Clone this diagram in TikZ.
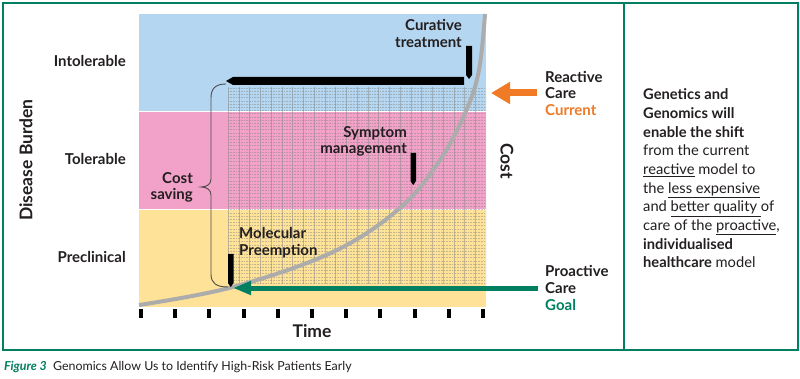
\documentclass[tikz,border=0pt]{standalone}
\usepackage{fontspec}
\setmainfont{Lato}
\usetikzlibrary{arrows.meta}
\definecolor{bandblue}{RGB}{180,214,240}
\definecolor{bandpink}{RGB}{242,162,200}
\definecolor{bandyellow}{RGB}{253,226,152}
\definecolor{framegreen}{RGB}{0,128,96}
\definecolor{arroworange}{RGB}{240,122,38}
\definecolor{darktext}{RGB}{35,31,32}
\definecolor{curvegray}{RGB}{172,172,172}
\tikzset{
  lbl/.style={inner sep=0pt, text=darktext, font=\fontsize{15}{16.5}\selectfont\bfseries},
  axislbl/.style={inner sep=0pt, text=darktext, font=\fontsize{17.5}{20}\selectfont\bfseries},
  framebox/.style={draw=framegreen, line width=2pt},
  gridv/.style={draw=gray, line width=0.5pt, opacity=0.45},
  gridh/.style={draw=gray, line width=0.5pt, dash pattern=on 0.6pt off 1pt, opacity=0.45},
  costcurve/.style={draw=curvegray, line width=4pt},
  barshape/.style={fill=black},
  brace/.style={draw=darktext!80, line width=0.9pt},
  goalarrow/.style={draw=framegreen, line width=5pt, -{Triangle[length=18pt,width=13pt]}},
  curarrow/.style={draw=arroworange, line width=7pt, -{Triangle[length=19pt,width=21pt]}},
  tick/.style={fill=black}
}
\begin{document}
\begin{tikzpicture}[x=1pt,y=-1pt]
\useasboundingbox (0,0) rectangle (800,379);
\fill[white] (0,0) rectangle (800,379);
% bands
\fill[bandblue] (139,14) rectangle (486,111);
\fill[bandpink] (139,112) rectangle (486,209);
\fill[bandyellow] (139,210) rectangle (486,307);
% grid
\begin{scope}
\clip (228,87) rectangle (486,284);
\foreach \x in {228,238.75,...,490} \draw[gridv] (\x,87) -- (\x,284);
\foreach \y in {88,91.2,...,286} \draw[gridh] (228,\y) -- (486,\y);
\end{scope}
% ticks
\foreach \i in {0,...,10} \fill[tick] ({141+34.2*\i-2},309) rectangle ++(4,9);
% cost curve
\draw[costcurve] plot[smooth, tension=0.6] coordinates {(139,305) (233,287) (333,252) (400,208) (440,160) (466,111) (479,70) (485,14)};
% reactive bar
\fill[barshape] (226,81) -- (233,77) -- (464,77) -- (464,85) -- (233,85) -- cycle;
% treatment bars
\fill[barshape] (466,46) -- (472,46) -- (472,75) -- (469,79) -- (466,75) -- cycle;
\fill[barshape] (410.5,153) -- (416,153) -- (416,181) -- (413.25,185) -- (410.5,181) -- cycle;
\fill[barshape] (228,254) -- (233.5,254) -- (233.5,283) -- (230.75,287) -- (228,283) -- cycle;
% brace
\draw[brace] (226,84) .. controls (215,84) and (211,89) .. (211,98) -- (211,179) .. controls (211,184) and (207,187) .. (201,187) .. controls (207,187) and (211,190) .. (211,195) -- (211,274) .. controls (211,283) and (216,287) .. (228,287);
% arrows
\coordinate (curtail) at (537,93);
\coordinate (curtip) at (491,93);
\draw[curarrow] (curtail) -- (curtip);
\coordinate (goaltail) at (538,288);
\coordinate (goaltip) at (233,288);
\draw[goalarrow] (goaltail) -- (goaltip);
% axis labels
\node[lbl, anchor=mid east] (intol) at (126,64) {Intolerable};
\node[lbl, anchor=mid east] (tol) at (126,162) {Tolerable};
\node[lbl, anchor=mid east] (precl) at (126,260) {Preclinical};
\node[axislbl, rotate=90] (burden) at (26,160) {Disease Burden};
\node[axislbl] (time) at (312,331) {Time};
\node[axislbl, rotate=-90] (cost) at (507,161) {Cost};
% chart labels
\node[lbl, align=right, anchor=north east, font=\fontsize{15}{17}\selectfont\bfseries] (curative) at (462,19) {Curative\\treatment};
\node[lbl, align=right, anchor=north east] (symptom) at (407,126) {Symptom\\management};
\node[lbl, align=right, anchor=north east] (saving) at (193,172) {Cost\\saving};
\node[lbl, align=left, anchor=north west, font=\fontsize{15}{17}\selectfont\bfseries] (molecular) at (239,227) {Molecular\\Preemption};
\node[lbl, align=left, anchor=north west] (reactive) at (545,71) {Reactive\\Care\\\textcolor{arroworange}{Current}};
\node[lbl, align=left, anchor=north west, font=\fontsize{15}{17}\selectfont\bfseries] (proactive) at (545,265) {Proactive\\Care\\\textcolor{framegreen}{Goal}};
% right text
\node[inner sep=0pt, text=darktext, align=left, anchor=north west, font=\fontsize{14.7}{18.7}\selectfont] (shift) at (643,88.5) {\textbf{Genetics and}\\\textbf{Genomics will}\\\textbf{enable the shift}\\from the current\\\underline{reactive} model to\\the \underline{less expensive}\\and \underline{better quality }of\\care of the \underline{proactive},\\\textbf{individualised}\\\textbf{healthcare} model};
% frame
\draw[framebox] (3,3) rectangle (798,350);
\draw[framebox] (624,3) -- (624,350);
% caption
\node[inner sep=0pt, anchor=mid west, text=darktext, font=\fontsize{12.4}{14}\selectfont] (caption) at (4,368) {\textcolor{framegreen}{\bfseries\itshape Figure 3}\hspace{0.5em}Genomics Allow Us to Identify High-Risk Patients Early};
\end{tikzpicture}
\end{document}
